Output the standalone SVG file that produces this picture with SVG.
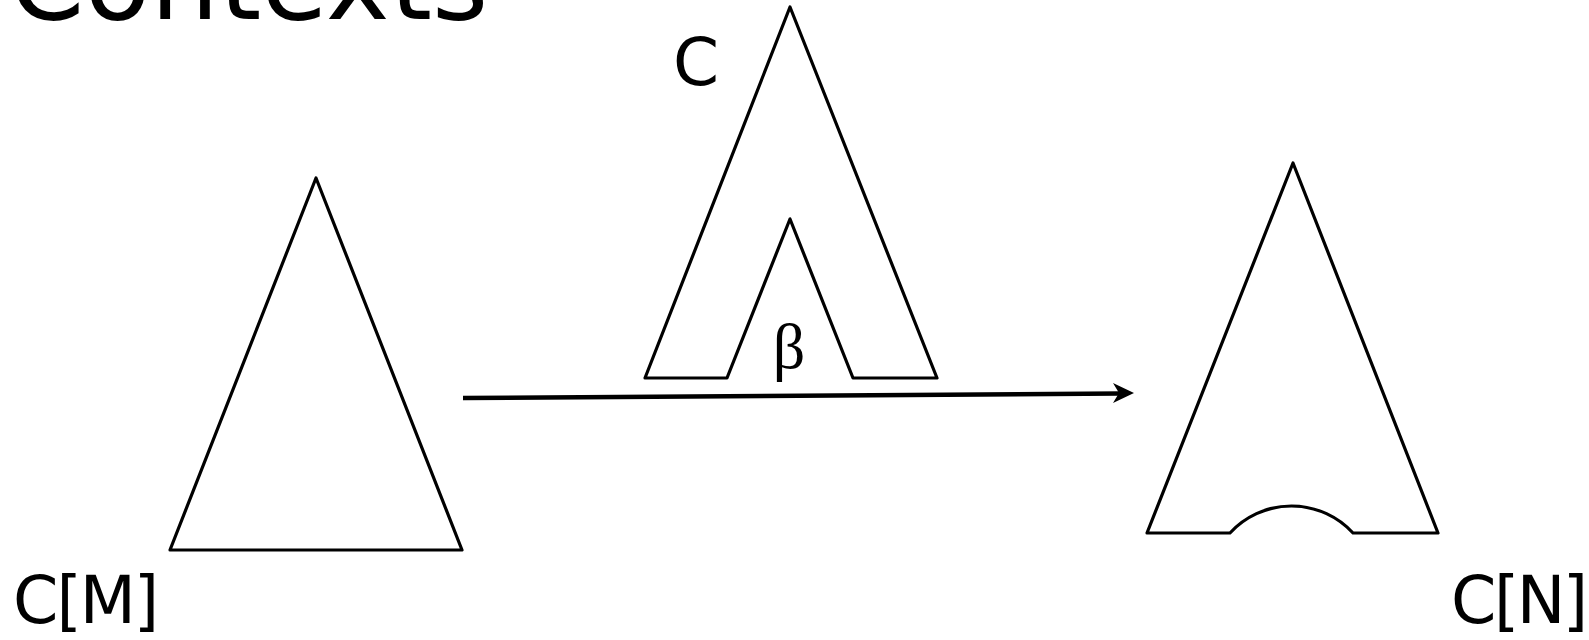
<svg xmlns="http://www.w3.org/2000/svg" width="1589" height="640" viewBox="0 0 1589 640">
<defs>
<style>
.shape{fill:none;stroke:#000;stroke-width:3.2;stroke-linejoin:round;stroke-linecap:round}
.sans{font-family:"DejaVu Sans","Liberation Sans",sans-serif;fill:#000}
.serif{font-family:"Liberation Serif","DejaVu Serif",serif;fill:#000}
</style>
</defs>
<rect width="1589" height="640" fill="#fff"/>
<text class="sans" x="9" y="19" font-size="108">Contexts</text>
<g id="CM">
<polygon class="shape" points="316,178 462,550 170,550"/>
<text class="sans" x="13" y="623" font-size="65" letter-spacing="-2">C[M]</text>
</g>
<g id="C">
<polygon class="shape" points="790,7 937,378 853,378 790,219 727,378 645,378"/>
<text class="sans" x="673" y="85" font-size="66">C</text>
<text class="serif" x="789" y="368" font-size="64" text-anchor="middle">β</text>
</g>
<g id="CN">
<path class="shape" d="M1293,163 L1438,533 L1353,533 A83.5,83.5 0 0 0 1230,533 L1147,533 Z"/>
<text class="sans" x="1451" y="623" font-size="65" letter-spacing="-2.5">C[N]</text>
</g>
<g id="connectors">
<line x1="463" y1="398" x2="1120" y2="393.5" stroke="#000" stroke-width="4.5"/>
<path d="M1113,383 L1134,393 L1113,403 L1119,393 Z" fill="#000"/>
</g>
</svg>
